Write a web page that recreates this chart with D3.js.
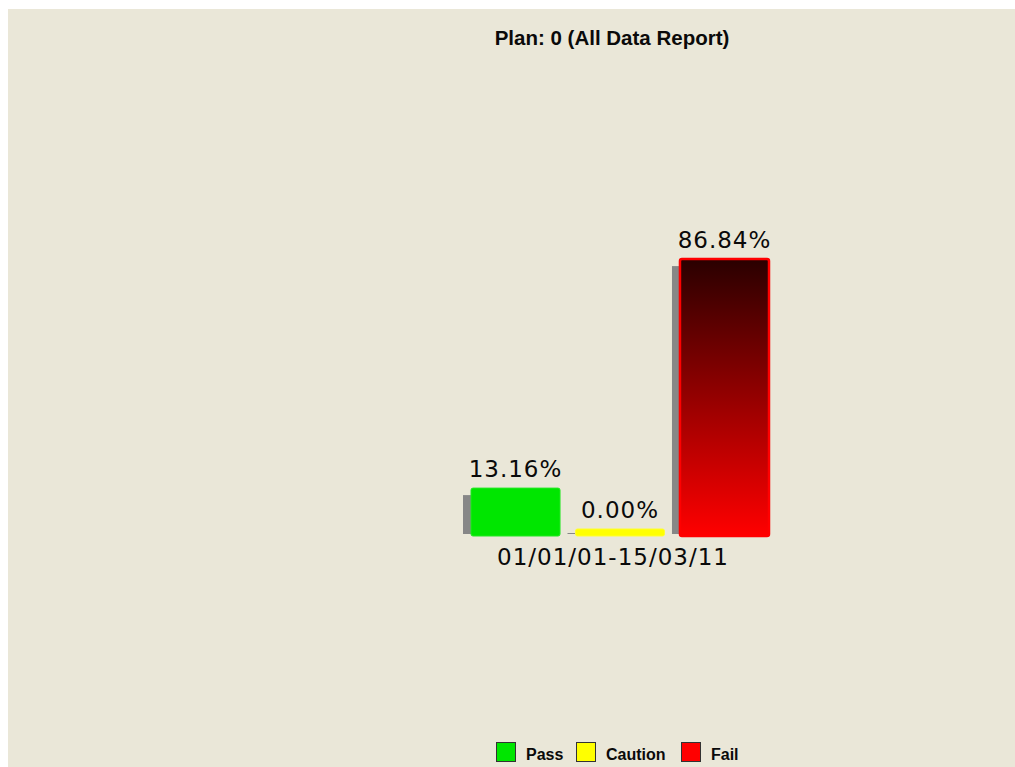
<!DOCTYPE html>
<html>
<head>
<meta charset="utf-8">
<script src="https://cdn.jsdelivr.net/npm/d3@7"></script>
<style>
  html, body { margin: 0; padding: 0; background: #ffffff; }
  svg { display: block; }
</style>
</head>
<body>
<div id="chart"></div>
<script>
// Report data
const title = "Plan: 0 (All Data Report)";
const periods = ["01/01/01-15/03/11"];
const statuses = ["Pass", "Caution", "Fail"];
const percentages = [13.16, 0.00, 86.84];
const statusColors = ["#00e600", "#ffff00", "#ff0000"];

const W = 1015, H = 767;
const svg = d3.select("#chart").append("svg")
  .attr("width", W).attr("height", H);

// Panel background
svg.append("rect")
  .attr("x", 8).attr("y", 9)
  .attr("width", W - 8).attr("height", H - 9)
  .attr("fill", "#eae7d8");

const defs = svg.append("defs");
const grad = defs.append("linearGradient")
  .attr("id", "failGrad").attr("x1", 0).attr("y1", 0).attr("x2", 0).attr("y2", 1);
grad.append("stop").attr("offset", "0%").attr("stop-color", "#2a0000");
grad.append("stop").attr("offset", "100%").attr("stop-color", "#ff0000");

// Scales
const baseY = 529;    // value zero
const floorY = 536;   // bottom edge of bars (bars have a fixed base depth)
const y = d3.scaleLinear().domain([0, 100]).range([baseY, baseY - 310.8]);

const x0 = d3.scaleBand().domain(periods).range([462, 778]).padding(0);
const x1 = d3.scaleBand().domain(statuses).range([9, x0.bandwidth() - 9])
  .paddingInner(0.148).paddingOuter(0);

const rows = statuses.map((s, i) => ({ status: s, value: percentages[i], color: statusColors[i], period: periods[0] }));

const g = svg.append("g");

// Shadows
g.selectAll("rect.shadow").data(rows).enter().append("rect")
  .attr("class", "shadow")
  .attr("x", d => x0(d.period) + x1(d.status) - 8)
  .attr("y", d => Math.min(y(d.value) + 7, floorY - 3))
  .attr("width", 8)
  .attr("height", d => (floorY - 2) - Math.min(y(d.value) + 7, floorY - 3))
  .attr("fill", "#878787");

// Bars
g.selectAll("rect.bar").data(rows).enter().append("rect")
  .attr("class", "bar")
  .attr("x", d => x0(d.period) + x1(d.status))
  .attr("y", d => y(d.value))
  .attr("width", x1.bandwidth())
  .attr("height", d => floorY - y(d.value))
  .attr("rx", 2)
  .attr("fill", d => d.status === "Fail" ? "url(#failGrad)" : d.color)
  .attr("stroke", d => d.status === "Fail" ? "#ff0000" : (d.status === "Pass" ? "#22e822" : "#ffff30"))
  .attr("stroke-width", d => d.status === "Fail" ? 2.5 : 1);

// Value labels
g.selectAll("text.val").data(rows).enter().append("text")
  .attr("class", "val")
  .attr("x", d => x0(d.period) + x1(d.status) + x1.bandwidth() / 2)
  .attr("y", d => y(d.value) - 11)
  .attr("text-anchor", "middle")
  .attr("font-family", "DejaVu Sans, Verdana, sans-serif")
  .attr("font-size", 23)
  .attr("letter-spacing", 1)
  .attr("fill", "#0a0a0a")
  .text(d => d.value.toFixed(2) + "%");

// Category label
svg.selectAll("text.cat").data(periods).enter().append("text")
  .attr("class", "cat")
  .attr("x", d => x0(d) + x0.bandwidth() / 2 - 7)
  .attr("y", 565)
  .attr("text-anchor", "middle")
  .attr("font-family", "DejaVu Sans, Verdana, sans-serif")
  .attr("font-size", 23)
  .attr("letter-spacing", 1)
  .attr("fill", "#0a0a0a")
  .text(d => d);

// Title
svg.append("text")
  .attr("x", 612).attr("y", 45)
  .attr("text-anchor", "middle")
  .attr("font-family", "Liberation Sans, Arial, sans-serif")
  .attr("font-weight", "bold")
  .attr("font-size", 20.5)
  .attr("fill", "#0a0a0a")
  .text(title);

// Legend
const legendX = [496, 576, 681];
const leg = svg.append("g");
const items = leg.selectAll("g").data(rows).enter().append("g")
  .attr("transform", (d, i) => `translate(${legendX[i]},742)`);
items.append("rect")
  .attr("x", 0.5).attr("y", 0.5).attr("width", 19).attr("height", 19)
  .attr("fill", d => d.color).attr("stroke", "#333").attr("stroke-width", 1);
items.append("text")
  .attr("x", 30).attr("y", 18)
  .attr("font-family", "Liberation Sans, Arial, sans-serif")
  .attr("font-weight", "bold")
  .attr("font-size", 16)
  .attr("fill", "#0a0a0a")
  .text(d => d.status);
</script>
</body>
</html>
